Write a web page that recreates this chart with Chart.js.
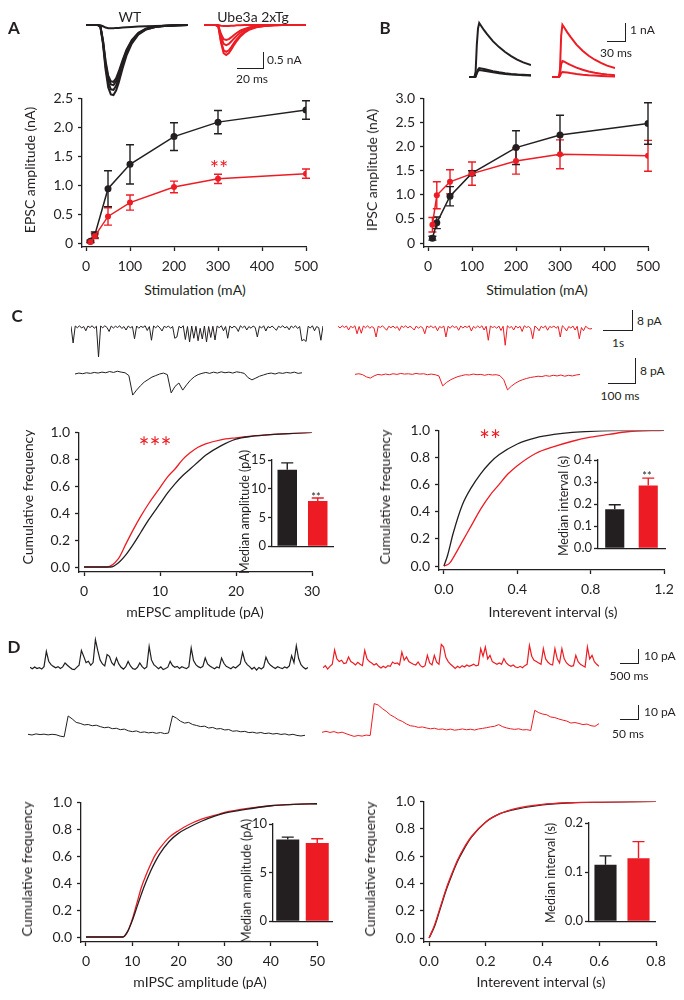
<!DOCTYPE html>
<html>
<head>
<meta charset="utf-8">
<script src="https://cdn.jsdelivr.net/npm/chart.js@4.4.0/dist/chart.umd.min.js"></script>
<style>
body { margin: 0; background: #fff; }
#fig { position: relative; width: 684px; height: 1000px; font-family: Lato, "Open Sans", sans-serif; color: #231f20; }
#fig canvas { position: absolute; }
.t { position: absolute; white-space: nowrap; line-height: 1; }
.sb { position: absolute; box-sizing: border-box; border-style: solid; border-color: #231f20; border-width: 0 1.5px 1.5px 0; }
</style>
</head>
<body>
<div id="fig"></div>
<script>
const BLACK = '#231f20', RED = '#ed1c24';

// ---- panel A / B : input-output curves ----
const stim = [10, 20, 50, 100, 200, 300, 500];
const epscWT = [0.03, 0.14, 0.94, 1.36, 1.84, 2.09, 2.30];
const epscWTErr = [0.02, 0.05, 0.31, 0.34, 0.24, 0.20, 0.16];
const epscTg = [0.02, 0.12, 0.46, 0.70, 0.97, 1.11, 1.20];
const epscTgErr = [0.01, 0.04, 0.15, 0.13, 0.10, 0.08, 0.08];
const ipscWT = [0.10, 0.42, 0.97, 1.45, 1.98, 2.24, 2.48];
const ipscWTErr = [0.04, 0.12, 0.20, 0.05, 0.35, 0.41, 0.43];
const ipscTg = [0.38, 0.99, 1.27, 1.44, 1.70, 1.84, 1.81];
const ipscTgErr = [0.15, 0.28, 0.25, 0.24, 0.27, 0.30, 0.32];

// example evoked traces (ms, nA)
const tA = [0, 9, 11, 13, 15, 17, 19, 21, 23, 25, 28, 31, 35, 40, 46, 53, 60, 70, 78];
const epscTrWT = [
  [0, 0, -0.05, -0.6, -1.4, -1.95, -2.17, -2.19, -2.05, -1.8, -1.35, -0.95, -0.58, -0.3, -0.14, -0.06, -0.03, -0.01, 0],
  [0, 0, -0.05, -0.55, -1.3, -1.8, -2.01, -2.03, -1.9, -1.66, -1.25, -0.88, -0.54, -0.28, -0.13, -0.06, -0.03, -0.01, 0],
  [0, 0, -0.04, -0.5, -1.2, -1.67, -1.86, -1.88, -1.76, -1.54, -1.16, -0.81, -0.5, -0.26, -0.12, -0.05, -0.02, -0.01, 0],
  [0, 0, -0.04, -0.48, -1.13, -1.58, -1.76, -1.78, -1.67, -1.46, -1.1, -0.77, -0.47, -0.24, -0.11, -0.05, -0.02, -0.01, 0],
  [0, 0, -0.01, -0.04, -0.08, -0.1, -0.1, -0.1, -0.09, -0.09, -0.08, -0.07, -0.06, -0.05, -0.04, -0.03, -0.02, -0.01, 0]
];
const epscTrTg = [
  [0, 0, -0.05, -0.55, -0.88, -0.94, -0.88, -0.76, -0.62, -0.5, -0.35, -0.24, -0.14, -0.07, -0.03, -0.01, 0, 0, 0],
  [0, 0, -0.05, -0.5, -0.79, -0.84, -0.79, -0.68, -0.56, -0.45, -0.31, -0.21, -0.12, -0.06, -0.03, -0.01, 0, 0, 0],
  [0, 0, -0.04, -0.37, -0.59, -0.63, -0.59, -0.51, -0.42, -0.34, -0.23, -0.16, -0.09, -0.05, -0.02, -0.01, 0, 0, 0],
  [0, 0, -0.03, -0.28, -0.44, -0.47, -0.44, -0.38, -0.31, -0.25, -0.17, -0.12, -0.07, -0.03, -0.01, 0, 0, 0, 0],
  [0, 0, 0, -0.02, -0.03, -0.03, -0.03, -0.02, -0.02, -0.01, -0.01, 0, 0, 0, 0, 0, 0, 0, 0]
];
const tB = [0, 9, 11, 13, 15, 17, 20, 25, 30, 40, 50, 60, 70, 80, 90, 103];
const ipscTrWT = [
  [0, 0, 0.3, 1.8, 2.7, 3.0, 2.85, 2.6, 2.38, 1.98, 1.66, 1.39, 1.16, 0.97, 0.81, 0.67],
  [0, 0, 0.03, 0.25, 0.42, 0.5, 0.48, 0.44, 0.4, 0.32, 0.26, 0.21, 0.17, 0.14, 0.12, 0.1],
  [0, 0, 0.02, 0.2, 0.34, 0.39, 0.38, 0.35, 0.32, 0.26, 0.21, 0.17, 0.14, 0.12, 0.1, 0.08]
];
const ipscTrTg = [
  [0, 0, 0, 0.4, 2.3, 2.9, 2.75, 2.48, 2.24, 1.8, 1.46, 1.18, 0.96, 0.78, 0.63, 0.5],
  [0, 0, 0, 0.15, 0.7, 0.89, 0.85, 0.76, 0.67, 0.52, 0.4, 0.31, 0.24, 0.18, 0.14, 0.1],
  [0, 0, 0, 0.05, 0.22, 0.28, 0.27, 0.25, 0.22, 0.17, 0.13, 0.1, 0.08, 0.06, 0.04, 0.03]
];

// ---- panel C : mEPSC traces (pA) ----
const cLongWT = [0.3,-6.4,0.4,-0.3,0.5,-0.4,0.2,-1.5,0.4,-0.2,0.5,-0.5,0.3,-12,0.4,-0.3,0.5,-0.2,-1.8,0.4,-0.4,0.3,-0.2,0.5,-0.6,0.2,-1.2,0.4,-0.3,0.2,-4.7,0.4,-0.5,0.3,-0.2,0.5,-1.4,0.2,-5.3,0.4,-0.3,0.5,-0.4,-1.6,0.3,-0.2,0.4,-0.5,0.2,-4.5,-4,0.3,-0.4,0.5,-5,0.2,-6,0.4,-4.5,0.3,-5.5,-0.5,-4.8,0.4,-6,0.2,-4.2,0.3,-5.2,0.4,-0.3,0.5,-1.5,0.2,-4.5,0.4,-0.4,0.3,-0.2,-1.8,0.5,-0.3,0.4,-1.2,0.2,-0.5,0.4,-0.2,-4,0.3,-0.4,0.5,-1.6,0.2,-0.3,0.4,-0.5,-1.3,0.3,-0.2,0.5,-0.4,0.2,-1.1,0.4,-0.3,0.5,-0.6,0.2,-5.5,-5,-5.8,0.3,-0.4,0.5,-1.5,0.2,-0.3,-5.3,0.4];
const cLongTg = [0.3,-0.4,0.5,-0.2,0.4,-1.2,0.3,-0.3,0.5,-2.7,0.2,-2.5,0.4,-0.3,0.5,-0.5,0.2,-0.4,-4,0.3,-0.2,0.5,-0.4,-1.3,0.3,-0.3,0.4,-0.5,0.2,-1.4,0.4,-0.2,0.5,-0.4,0.3,-0.3,-1.2,0.4,-0.5,0.2,-0.3,-2.7,0.4,-0.2,0.5,-0.4,0.3,-1.5,0.2,-0.3,0.4,-4,0.3,-0.5,0.5,-0.2,0.2,-1.3,0.4,-0.4,0.3,-0.2,0.5,-1.6,0.2,-0.4,0.4,-0.3,0.5,-1.2,0.3,-5.3,0.4,-0.2,0.2,-0.5,0.4,-1.4,0.3,-7.3,0.5,-0.3,0.2,-1.2,0.4,-0.4,0.3,-1.8,0.5,-0.2,0.2,-0.5,-4.7,0.4,-0.3,-1.5,0.3,-0.4,0.5,-1.3,0.2,-0.2,0.4,-0.5,0.3,-4,0.5,-0.3,-1.6,0.2,-0.4,0.4,-1.2,0.3,-4.7,-0.2,-1.5,0.3,-0.4,-0.8,-0.6];
const cShortWT = [0,0.3,0.1,0.4,0.2,0.5,0.3,0.6,0.4,0.8,0.5,0.9,0.6,0.4,-0.5,-6.8,-5.2,-3.8,-2.6,-1.8,-1,-0.5,0,0.3,-0.2,-6.1,-4,-2.9,-5.2,-3.5,-2,-0.9,-0.2,0.2,0.5,0.2,0.6,0.3,0.7,0.4,0.6,0.3,0.7,0.5,0.2,-1.2,-1.9,-1.3,-0.7,-0.3,0.1,0.3,0,0.4,0.2,0.5,0.3,0.6,0.2,0.4];
const cShortTg = [0.2,0.4,0.1,-0.6,-1,-0.3,0.2,0,0.3,0.1,0.4,0.2,0.5,0.3,0.4,0.2,0.5,0.3,0.4,0.1,0.3,0.1,-0.3,-3.5,-2.4,-1.6,-1,-0.5,-0.2,0.1,0,0.3,0.1,0.2,-0.1,0.2,0,0.1,-0.2,-1.5,-4.8,-3.6,-2.7,-2,-1.5,-1.1,-0.8,-0.6,-0.4,-0.5,-0.2,-0.4,-0.1,-0.3,0,-0.4,-0.1,-0.3,0,0.2];

// cumulative distributions, mEPSC
const cAmpXWT = [0, 3.5, 4.5, 5.5, 6.5, 7.5, 8.5, 10, 11, 12, 13, 14, 15, 16, 18, 20, 22, 25, 28, 30];
const cAmpYWT = [0, 0, 0.03, 0.09, 0.17, 0.26, 0.35, 0.47, 0.55, 0.62, 0.68, 0.73, 0.78, 0.83, 0.9, 0.95, 0.97, 0.985, 0.995, 1.0];
const cAmpXTg = [0, 3, 4.5, 5.5, 6.5, 7.5, 8.5, 10, 11, 12, 13, 14, 15, 16, 18, 20, 22, 25, 28, 30];
const cAmpYTg = [0, 0, 0.06, 0.17, 0.28, 0.38, 0.47, 0.59, 0.67, 0.73, 0.8, 0.85, 0.89, 0.915, 0.945, 0.96, 0.972, 0.985, 0.995, 1.0];
const cIntXWT = [0, 0.02, 0.05, 0.1, 0.15, 0.2, 0.25, 0.3, 0.4, 0.5, 0.6, 0.7, 0.8, 1.0, 1.2];
const cIntYWT = [0, 0.08, 0.24, 0.45, 0.58, 0.68, 0.76, 0.82, 0.9, 0.945, 0.97, 0.985, 0.993, 1, 1];
const cIntXTg = [0, 0.03, 0.05, 0.1, 0.15, 0.2, 0.25, 0.3, 0.35, 0.4, 0.5, 0.6, 0.7, 0.8, 0.9, 1.0, 1.2];
const cIntYTg = [0, 0.02, 0.06, 0.18, 0.3, 0.42, 0.52, 0.6, 0.68, 0.74, 0.83, 0.88, 0.92, 0.95, 0.97, 0.99, 1];
const mepscAmp = [13.3, 7.85], mepscAmpErr = [1.2, 0.55];
const mepscInt = [0.177, 0.284], mepscIntErr = [0.02, 0.034];

// ---- panel D : mIPSC traces (pA) ----
const dLongWT = [0.5,-0.6,0.8,-0.4,0.3,-0.8,1,12.3,5,2.5,1.2,0.2,1,-0.4,0.8,3.7,2,0.5,-0.8,-1.2,0.5,2,13,8.6,4,5,2,4,21,13,6,3,1.5,9.9,8.6,4,2,7.4,3,0.5,-0.8,1,4.9,1.5,-0.5,-1,0.5,3.7,1,-0.5,0.8,16,6,2.5,1,-0.5,0.8,-1.2,-0.4,0.6,4.9,1.8,0.5,1.2,-0.3,0.9,0.2,-0.5,1,14.8,5.5,2.5,1,0.2,1.2,7.4,3,1.5,0.3,-0.6,0.8,0,7.4,3.5,1.2,0.4,-0.5,1,0,1.5,3,11.6,5,2.5,1,-0.8,0.5,-1.5,0.4,-0.8,0.7,8.1,4,2,0.8,-0.3,1,0.2,-0.5,0.8,0,1.5,9.1,4,16.5,7,2.5,0.5,-0.8,0.4];
const dLongTg = [-0.5,1,-1.5,0.5,2,12.6,6,4,5,2.5,3,7.4,4,3,1.5,3.5,2,1,12.3,6,4,3,1.5,2.5,0.5,-0.8,0.5,-0.5,1,0.5,3.7,2.5,3,1.5,11,5,7.4,4,3,2,1.5,3.7,1,0,1,8.6,3,1.5,8.6,3.5,2,16.8,14.8,7,4,2,0.5,-1,0.5,-0.5,1,0,1.5,0.5,1.2,2,0.8,1.5,13.6,8,14.8,6,8.6,4,3,2,3,2,6.2,3,1.5,0.5,1.5,0,-0.5,0.5,-0.5,1,2,16,8,5,4,3,2,13.6,6,3.5,2,1.5,13.6,6,3,13.6,6,3,1.5,0.5,1,8.6,4,2,1,0,14.8,6,8.6,4,2,0.5];
const dShortWT = [0.5,0,0.8,0.3,0.6,0.1,0.5,0.2,-0.8,-1.3,13.6,11.5,9,8.3,7.2,7.5,6.6,7,6,5.2,5.6,4.5,4.8,3.8,4.2,3,2.4,2.9,1.8,2.2,1.5,1.9,1.2,1.8,1,1.4,13.6,12,9.8,8.5,9,7.5,6.8,6,6.3,5,5.4,4.3,4.6,3.6,3.9,2.7,3,2.3,2.6,1.7,2,1.3,1.8,1,1.4,0.7,1.1,0.4,0.8,0,0.5,-0.3,-0.7,-0.2];
const dShortTg = [0.5,1.2,0.4,1,0,0.6,-0.5,-1.5,-2.4,-1.8,-2.2,-1.5,-1.8,21,20,17.5,15.5,13,11.4,9.5,8.3,6.5,5.2,4.8,4,4.3,3.6,3,3.4,2.6,2.9,2.2,2.8,2,2.4,2.9,2.3,2.7,2.1,2.9,3.3,3.8,4.4,4.8,6,4.5,3.6,3,2.6,3,2.2,2.4,1.8,16.2,14.5,13.5,13,11.4,11,10,9.2,8.5,7.1,7.5,6.8,6,6.4,5.2,4.8,6.7];

// cumulative distributions, mIPSC
const dAmpX = [0, 8, 9, 10, 11, 12, 13, 14, 15, 16, 18, 20, 22, 25, 28, 30, 35, 40, 45, 50];
const dAmpYWT = [0, 0, 0.04, 0.12, 0.22, 0.32, 0.41, 0.49, 0.56, 0.62, 0.71, 0.77, 0.81, 0.86, 0.9, 0.92, 0.95, 0.975, 0.985, 0.99];
const dAmpYTg = [0, 0, 0.04, 0.13, 0.25, 0.37, 0.46, 0.54, 0.61, 0.66, 0.74, 0.79, 0.83, 0.875, 0.905, 0.925, 0.955, 0.975, 0.985, 0.99];
const dIntX = [0, 0.02, 0.04, 0.06, 0.08, 0.1, 0.12, 0.15, 0.2, 0.25, 0.3, 0.4, 0.5, 0.6, 0.8];
const dIntYWT = [0, 0.09, 0.22, 0.35, 0.46, 0.56, 0.64, 0.74, 0.85, 0.91, 0.94, 0.975, 0.99, 0.995, 1];
const dIntYTg = [0, 0.1, 0.23, 0.36, 0.47, 0.57, 0.65, 0.745, 0.85, 0.91, 0.945, 0.978, 0.99, 0.995, 1];
const mipscAmp = [8.4, 8.05], mipscAmpErr = [0.25, 0.43];
const mipscInt = [0.115, 0.128], mipscIntErr = [0.018, 0.034];

const fig = document.getElementById('fig');
Chart.defaults.font.family = 'Lato, "Open Sans", sans-serif';
Chart.defaults.color = BLACK;

const xy = (xs, ys) => xs.map((x, i) => ({ x: x, y: ys[i] }));

// error bars drawn under the points / bars
const errorBars = {
  id: 'errorBars',
  beforeDatasetsDraw(chart) {
    const ctx = chart.ctx, ys = chart.scales.y;
    chart.data.datasets.forEach((ds, di) => {
      if (!ds.err) return;
      const meta = chart.getDatasetMeta(di);
      meta.data.forEach((el, i) => {
        const raw = ds.data[i];
        const v = typeof raw === 'object' ? raw.y : raw;
        const e = ds.err[i];
        const top = ys.getPixelForValue(v + e);
        const bot = ds.upOnly ? ys.getPixelForValue(v) : ys.getPixelForValue(v - e);
        const hw = ds.capHalf || 4;
        ctx.save();
        ctx.strokeStyle = Array.isArray(ds.errColor) ? ds.errColor[i] : ds.errColor;
        ctx.lineWidth = 1.4;
        ctx.beginPath();
        ctx.moveTo(el.x, top); ctx.lineTo(el.x, bot);
        ctx.moveTo(el.x - hw, top); ctx.lineTo(el.x + hw, top);
        if (!ds.upOnly) { ctx.moveTo(el.x - hw, bot); ctx.lineTo(el.x + hw, bot); }
        ctx.stroke();
        ctx.restore();
      });
    });
  }
};

function makeCanvas(l, t, w, h) {
  const c = document.createElement('canvas');
  c.width = w; c.height = h;
  c.style.left = l + 'px'; c.style.top = t + 'px';
  fig.appendChild(c);
  return c;
}

function scaleOpts(axis, s, size) {
  return {
    type: s.type || 'linear', min: s.min, max: s.max,
    offset: s.offset || false,
    afterFit: sc => { if (axis === 'x') sc.height = size; else sc.width = size; },
    afterBuildTicks: sc => { if (s.ticks) sc.ticks = s.ticks.map(v => ({ value: v })); },
    border: { display: true, color: BLACK, width: 1.3 },
    grid: { display: s.noTicks ? false : true, drawOnChartArea: false, drawTicks: true, tickLength: 4, tickWidth: 1.3, tickColor: BLACK, color: BLACK },
    ticks: { display: !s.noTicks, color: BLACK, font: { size: s.size || 14 }, padding: s.pad ?? 5, maxRotation: 0, autoSkip: false,
      callback: v => s.fmt ? s.fmt(v) : '' }
  };
}

// box = pixel position of the axis lines on the page
function axisChart(box, xs, ysc, type, data, extra) {
  const p = extra.pad || { l: 50, t: 12, r: 20, b: 32 };
  const c = makeCanvas(box.l - p.l, box.t - p.t, box.r - box.l + p.l + p.r, box.b - box.t + p.t + p.b);
  new Chart(c, {
    type: type, data: data,
    options: {
      responsive: false, animation: false, devicePixelRatio: 1, events: [],
      layout: { padding: { top: p.t, right: p.r, left: 0, bottom: 0 } },
      plugins: { legend: { display: false }, tooltip: { enabled: false } },
      datasets: { bar: { categoryPercentage: 1, barPercentage: extra.barPct || 0.6 } },
      scales: { x: scaleOpts('x', xs, p.b), y: scaleOpts('y', ysc, p.l) }
    },
    plugins: [errorBars]
  });
}

// trace: chart area = whole canvas, scales hidden
function traceChart(g, sets) {
  const ymax = (g.base - g.t) / g.ppu, ymin = ymax - g.h / g.ppu;
  const c = makeCanvas(g.l, g.t, g.w, g.h);
  new Chart(c, {
    type: 'line',
    data: { datasets: sets.map(s => ({ data: s.data, borderColor: s.color, borderWidth: g.lw, pointRadius: 0, tension: 0, clip: false })) },
    options: {
      responsive: false, animation: false, devicePixelRatio: 1, events: [],
      layout: { padding: 0 },
      plugins: { legend: { display: false }, tooltip: { enabled: false } },
      scales: { x: { type: 'linear', display: false, min: g.xmin, max: g.xmax }, y: { display: false, min: ymin, max: ymax } }
    }
  });
}
const idx = arr => arr.map((v, i) => ({ x: i, y: v }));

function txt(s, x, y, o = {}) {
  const d = document.createElement('div');
  d.className = 't';
  d.textContent = s;
  d.style.left = x + 'px'; d.style.top = y + 'px';
  d.style.fontSize = (o.size || 14) + 'px';
  if (o.bold) d.style.fontWeight = 'bold';
  if (o.color) d.style.color = o.color;
  if (o.font) d.style.fontFamily = o.font;
  d.style.transform = o.rot ? 'translate(-50%,-50%) rotate(-90deg)' : 'translate(' + (o.ax ?? -50) + '%,-50%)';
  fig.appendChild(d);
}
function scaleBar(l, t, w, h) {
  const d = document.createElement('div');
  d.className = 'sb';
  d.style.left = l + 'px'; d.style.top = t + 'px';
  d.style.width = w + 'px'; d.style.height = h + 'px';
  fig.appendChild(d);
}

const f1 = v => v === 0 ? '0' : v.toFixed(1);
const fF = v => v.toFixed(1);
const fI = v => String(v);

function ioSet(ys, err, color, r) {
  return { data: xy(stim, ys), err: err, errColor: color, borderColor: color, backgroundColor: color, borderWidth: 1.5, pointRadius: r, pointBorderWidth: 0, tension: 0 };
}
function cumSet(xs, ys, color) {
  return { data: xy(xs, ys), borderColor: color, borderWidth: 1.3, pointRadius: 0, cubicInterpolationMode: 'monotone' };
}
function barData(vals, err) {
  return { labels: ['WT', 'Ube3a 2xTg'], datasets: [{ data: vals, err: err, upOnly: true, capHalf: 6, errColor: [BLACK, RED], backgroundColor: [BLACK, RED], borderWidth: 0 }] };
}

// ---------------- panel A ----------------
axisChart({ l: 82, r: 306, t: 97, b: 247 },
  { min: -9.1, max: 500, ticks: [0, 100, 200, 300, 400, 500], fmt: fI, pad: 7 },
  { min: -0.068, max: 2.5, ticks: [0, 0.5, 1, 1.5, 2, 2.5], fmt: f1 },
  'line', { datasets: [ioSet(epscTg, epscTgErr, RED, 3), ioSet(epscWT, epscWTErr, BLACK, 3.5)] }, {});
traceChart({ l: 86, t: 18, w: 102, h: 84, base: 25, ppu: 32, xmin: 0, xmax: 78, lw: 2 },
  epscTrWT.map(tr => ({ data: xy(tA, tr), color: BLACK })));
traceChart({ l: 204, t: 18, w: 102, h: 84, base: 25, ppu: 32, xmin: 0, xmax: 78, lw: 2 },
  epscTrTg.map(tr => ({ data: xy(tA, tr), color: RED })));
txt('A', 14, 27, { bold: true, size: 17 });
txt('WT', 130, 17);
txt('Ube3a 2xTg', 253, 17);
scaleBar(237, 52, 27, 17);
txt('0.5 nA', 267, 60, { size: 12, ax: 0 });
txt('20 ms', 252, 79, { size: 12 });
txt('EPSC amplitude (nA)', 30, 170, { rot: true });
txt('Stimulation (mA)', 195, 290);
txt('**', 219, 168, { color: RED, size: 22 });

// ---------------- panel B ----------------
axisChart({ l: 424, r: 648, t: 97, b: 247 },
  { min: -9.1, max: 500, ticks: [0, 100, 200, 300, 400, 500], fmt: fI, pad: 7 },
  { min: -0.082, max: 3.0, ticks: [0, 0.5, 1, 1.5, 2, 2.5, 3], fmt: f1 },
  'line', { datasets: [ioSet(ipscTg, ipscTgErr, RED, 3), ioSet(ipscWT, ipscWTErr, BLACK, 3.5)] }, {});
traceChart({ l: 469, t: 18, w: 62, h: 64, base: 77, ppu: 18, xmin: 0, xmax: 103, lw: 2 },
  ipscTrWT.map(tr => ({ data: xy(tB, tr), color: BLACK })));
traceChart({ l: 552, t: 18, w: 63, h: 64, base: 77, ppu: 18, xmin: 0, xmax: 103, lw: 2 },
  ipscTrTg.map(tr => ({ data: xy(tB, tr), color: RED })));
txt('B', 385, 27, { bold: true, size: 17 });
scaleBar(607, 23, 19, 19);
txt('1 nA', 630, 30, { size: 12, ax: 0 });
txt('30 ms', 616, 53, { size: 12 });
txt('IPSC amplitude (nA)', 372, 170, { rot: true });
txt('Stimulation (mA)', 537, 290);

// ---------------- panel C ----------------
txt('C', 17, 315, { bold: true, size: 17 });
traceChart({ l: 71, t: 318, w: 252, h: 44, base: 327, ppu: 2.5, xmin: 0, xmax: cLongWT.length - 1, lw: 1 },
  [{ data: idx(cLongWT), color: BLACK }]);
traceChart({ l: 338, t: 318, w: 254, h: 44, base: 327, ppu: 2.5, xmin: 0, xmax: cLongTg.length - 1, lw: 1 },
  [{ data: idx(cLongTg), color: RED }]);
traceChart({ l: 75, t: 364, w: 227, h: 36, base: 374, ppu: 3.1, xmin: 0, xmax: cShortWT.length - 1, lw: 1 },
  [{ data: idx(cShortWT), color: BLACK }]);
traceChart({ l: 355, t: 364, w: 225, h: 36, base: 375, ppu: 3.1, xmin: 0, xmax: cShortTg.length - 1, lw: 1 },
  [{ data: idx(cShortTg), color: RED }]);
scaleBar(603, 310, 30, 21);
txt('8 pA', 637, 321, { size: 12, ax: 0 });
txt('1s', 618, 343, { size: 12 });
scaleBar(608, 358, 28, 26);
txt('8 pA', 640, 371, { size: 12, ax: 0 });
txt('100 ms', 620, 396, { size: 12 });

axisChart({ l: 79, r: 312, t: 431, b: 572 },
  { min: -0.66, max: 30, ticks: [0, 10, 20, 30], fmt: fI, pad: 7 },
  { min: -0.037, max: 1, ticks: [0, 0.2, 0.4, 0.6, 0.8, 1], fmt: fF },
  'line', { datasets: [cumSet(cAmpXWT, cAmpYWT, BLACK), cumSet(cAmpXTg, cAmpYTg, RED)] }, {});
axisChart({ l: 272, r: 333, t: 460, b: 552 },
  { type: 'category', offset: true, noTicks: true },
  { min: 0, max: 15, ticks: [0, 5, 10, 15], fmt: fI, size: 13, pad: 2 },
  'bar', barData(mepscAmp, mepscAmpErr), { pad: { l: 30, t: 10, r: 4, b: 4 }, barPct: 0.64 });
txt('Cumulative frequency', 28, 497, { rot: true });
txt('mEPSC amplitude (pA)', 195, 612);
txt('***', 155, 447, { color: RED, size: 26 });
txt('Median amplitude (pA)', 245, 512, { rot: true, size: 12.5 });
txt('**', 316, 496, { size: 11 });

axisChart({ l: 439, r: 664, t: 429, b: 570 },
  { min: -0.027, max: 1.2, ticks: [0, 0.4, 0.8, 1.2], fmt: fF, pad: 7 },
  { min: -0.029, max: 1, ticks: [0, 0.2, 0.4, 0.6, 0.8, 1], fmt: fF },
  'line', { datasets: [cumSet(cIntXWT, cIntYWT, BLACK), cumSet(cIntXTg, cIntYTg, RED)] }, {});
axisChart({ l: 598, r: 665, t: 460, b: 554 },
  { type: 'category', offset: true, noTicks: true },
  { min: 0, max: 0.4, ticks: [0, 0.1, 0.2, 0.3, 0.4], fmt: fF, size: 13, pad: 2 },
  'bar', barData(mepscInt, mepscIntErr), { pad: { l: 30, t: 10, r: 4, b: 4 }, barPct: 0.57 });
txt('Cumulative frequency', 385, 497, { rot: true });
txt('Interevent interval (s)', 553, 612);
txt('**', 490, 440, { color: RED, size: 26 });
txt('Median interval (s)', 564, 506, { rot: true, size: 12.5 });
txt('**', 647, 475, { size: 11 });

// ---------------- panel D ----------------
txt('D', 14, 646, { bold: true, size: 17 });
traceChart({ l: 30, t: 636, w: 278, h: 40, base: 668, ppu: 1.35, xmin: 0, xmax: dLongWT.length - 1, lw: 1.2 },
  [{ data: idx(dLongWT), color: BLACK }]);
traceChart({ l: 323, t: 636, w: 276, h: 40, base: 667, ppu: 1.35, xmin: 0, xmax: dLongTg.length - 1, lw: 1.2 },
  [{ data: idx(dLongTg), color: RED }]);
traceChart({ l: 28, t: 700, w: 277, h: 42, base: 735, ppu: 1.4, xmin: 0, xmax: dShortWT.length - 1, lw: 1 },
  [{ data: idx(dShortWT), color: BLACK }]);
traceChart({ l: 322, t: 700, w: 277, h: 42, base: 733, ppu: 1.4, xmin: 0, xmax: dShortTg.length - 1, lw: 1 },
  [{ data: idx(dShortTg), color: RED }]);
scaleBar(620, 649, 19, 15);
txt('10 pA', 644, 656, { size: 12, ax: 0 });
txt('500 ms', 629, 676, { size: 12 });
scaleBar(620, 705, 19, 15);
txt('10 pA', 644, 712, { size: 12, ax: 0 });
txt('50 ms', 628, 734, { size: 12 });

axisChart({ l: 81, r: 317, t: 801, b: 942 },
  { min: -1.08, max: 50, ticks: [0, 10, 20, 30, 40, 50], fmt: fI, pad: 7 },
  { min: -0.037, max: 1, ticks: [0, 0.2, 0.4, 0.6, 0.8, 1], fmt: fF },
  'line', { datasets: [cumSet(dAmpX, dAmpYWT, BLACK), cumSet(dAmpX, dAmpYTg, RED)] }, {});
axisChart({ l: 273, r: 332, t: 824, b: 927 },
  { type: 'category', offset: true, noTicks: true },
  { min: 0, max: 10, ticks: [0, 5, 10], fmt: fI, size: 13, pad: 2 },
  'bar', barData(mipscAmp, mipscAmpErr), { pad: { l: 30, t: 10, r: 4, b: 4 }, barPct: 0.78 });
txt('Cumulative frequency', 27, 869, { rot: true });
txt('mIPSC amplitude (pA)', 200, 982);
txt('Median amplitude (pA)', 247, 881, { rot: true, size: 12.5 });

axisChart({ l: 424, r: 656, t: 800, b: 942 },
  { min: -0.018, max: 0.8, ticks: [0, 0.2, 0.4, 0.6, 0.8], fmt: fF, pad: 7 },
  { min: -0.029, max: 1, ticks: [0, 0.2, 0.4, 0.6, 0.8, 1], fmt: fF },
  'line', { datasets: [cumSet(dIntX, dIntYTg, RED), cumSet(dIntX, dIntYWT, BLACK)] }, {});
axisChart({ l: 589, r: 655, t: 823, b: 927 },
  { type: 'category', offset: true, noTicks: true },
  { min: 0, max: 0.2, ticks: [0, 0.1, 0.2], fmt: fF, size: 13, pad: 2 },
  'bar', barData(mipscInt, mipscIntErr), { pad: { l: 30, t: 10, r: 4, b: 4 }, barPct: 0.67 });
txt('Cumulative frequency', 370, 869, { rot: true });
txt('Interevent interval (s)', 541, 982);
txt('Median interval (s)', 551, 873, { rot: true, size: 12.5 });
</script>
</body>
</html>
